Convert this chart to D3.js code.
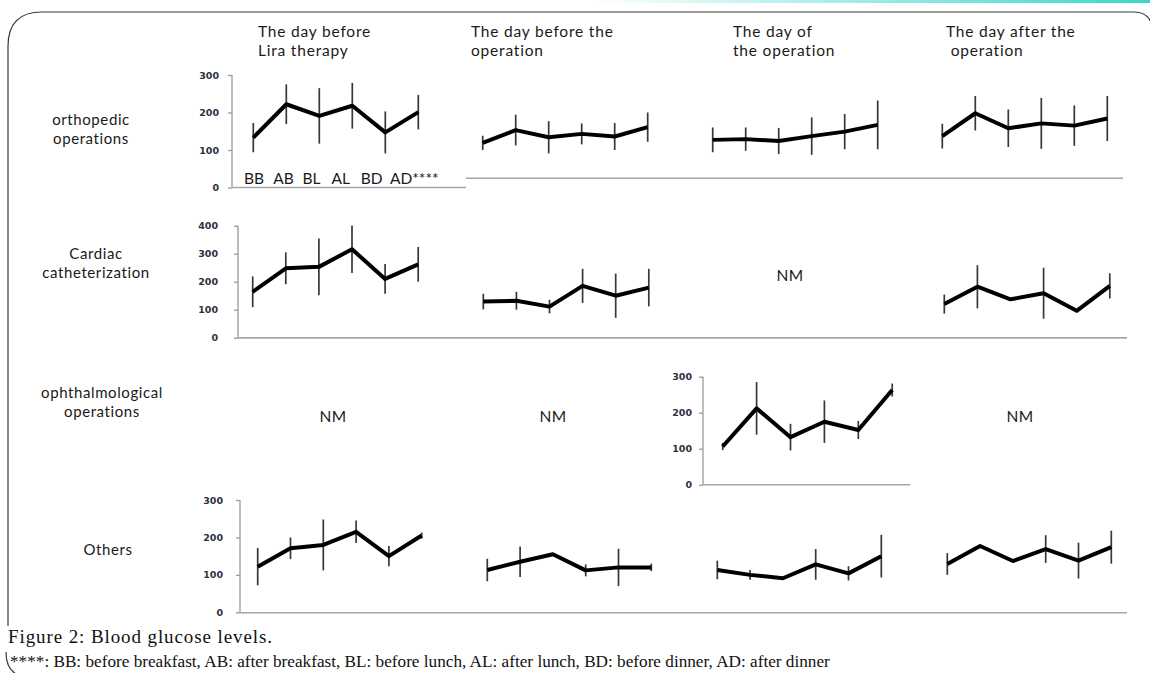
<!DOCTYPE html>
<html lang="en">
<head>
<meta charset="UTF-8">
<title>Blood glucose levels</title>
<style>
    body { margin: 0; background: #fff; }
    svg text { font-family: Lato, "Open Sans", sans-serif; fill: #1a1a1a; }
    .head { font-size: 15.5px; letter-spacing: 0.8px; }
    .group { font-size: 15px; letter-spacing: 0.6px; text-anchor: middle; }
    .nm { font-size: 15.5px; letter-spacing: 0.5px; text-anchor: middle; }
    .cat { font-size: 15.5px; }
    .yaxis text { font: bold 9.5px "DejaVu Sans", sans-serif; fill: #30303f; }
    .yaxis path, .yaxis line { stroke: #9a9a9a; stroke-width: 1.3; }
    .base { stroke: #a6a6a6; stroke-width: 1.6; }
    .err { stroke: #383838; stroke-width: 1.7; }
    .mean { fill: none; stroke: #000; stroke-width: 4; stroke-linejoin: round; }
    .caption { font-family: "Liberation Serif", "DejaVu Serif", serif; font-size: 17.2px; fill: #111; }
    .caption.title { font-size: 19px; letter-spacing: 0.9px; }
    .frame { fill: none; stroke: #3a3a3a; stroke-width: 1.2; }
</style>
</head>
<body>
<svg id="fig" width="1150" height="673"></svg>
<script src="https://cdn.jsdelivr.net/npm/d3@7"></script>
<script>

var times = ["BB", "AB", "BL", "AL", "BD", "AD"];
var days = [["The day before", "Lira therapy"], ["The day before the", "operation"],
            ["The day of", "the operation"], ["The day after the", " operation"]];
var groups = [["orthopedic", "operations"], ["Cardiac", "catheterization"],
              ["ophthalmological", "operations"], ["Others"]];
var yTicks = [[0, 100, 200, 300], [0, 100, 200, 300, 400], [0, 100, 200, 300], [0, 100, 200, 300]];

// mean and SD of blood glucose (mg/dL) per day, null = not measured (NM)
var orthoMean = [[133, 222, 191, 218, 147, 201], [119, 153, 134, 143, 136, 161],
                 [127, 129, 124, 137, 149, 167], [137, 198, 158, 171, 165, 184]];
var orthoSd   = [[39, 53, 74, 61, 56, 46], [19, 41, 43, 28, 36, 39],
                 [33, 31, 35, 50, 47, 65], [33, 46, 50, 68, 54, 60]];
var cardiacMean = [[164, 248, 253, 316, 210, 262], [129, 132, 111, 185, 150, 179],
                   null, [120, 182, 137, 159, 96, 185]];
var cardiacSd   = [[55, 57, 101, 85, 53, 62], [28, 32, 24, 61, 79, 67],
                   null, [34, 77, 0, 91, 0, 45]];
var ophthMean = [null, null, [106, 212, 132, 175, 152, 263], null];
var ophthSd   = [null, null, [10, 73, 37, 59, 25, 18], null];
var othersMean = [[122, 171, 180, 215, 150, 205], [113, 135, 155, 112, 120, 120],
                  [113, 100, 91, 128, 104, 150], [129, 177, 137, 169, 138, 174]];
var othersSd   = [[50, 29, 68, 30, 27, 8], [30, 41, 0, 16, 50, 10],
                  [25, 13, 0, 41, 19, 57], [29, 0, 0, 37, 48, 44]];

var means = [orthoMean, cardiacMean, ophthMean, othersMean];
var sds = [orthoSd, cardiacSd, ophthSd, othersSd];

// page layout (pixels)
var headX = [258, 471, 733, 946];
var rows = [
    {y0: 187.5, yTop: 75, max: 300, axisX: 232, pad: 9,
     starts: [253.3, 482.7, 712.7, 942.3], step: 33, labelX: 91, labelY: 125,
     baseLines: [[232, 466, 187.5], [466, 1123, 178.3]], nmX: []},
    {y0: 337.7, yTop: 225.7, max: 400, axisX: 238, pad: 16,
     starts: [252.7, 483.3, 713, 944.3], step: 33.1, labelX: 96, labelY: 259,
     baseLines: [[238, 1127, 337.9]], nmX: [null, null, 790, null], nmY: 281},
    {y0: 484.7, yTop: 376.7, max: 300, axisX: 703, pad: 7,
     starts: [0, 0, 722.7, 0], step: 33.9, labelX: 102, labelY: 398,
     baseLines: [[703, 910, 484.7]], nmX: [333, 553, null, 1020], nmY: 422},
    {y0: 612.3, yTop: 500, max: 300, axisX: 240, pad: 13,
     starts: [257.7, 487.3, 717.3, 947.3], step: 32.8, labelX: 108, labelY: 555,
     baseLines: [[240, 1127, 612.8]], nmX: []}
];

var svg = d3.select("#fig");

// frame and top accent
var grad = svg.append("defs").append("linearGradient").attr("id", "accent");
grad.append("stop").attr("offset", "0%").attr("stop-color", "#ffffff");
grad.append("stop").attr("offset", "100%").attr("stop-color", "#38d6cf");
svg.append("rect").attr("x", 590).attr("y", 0).attr("width", 560).attr("height", 3)
    .attr("fill", "url(#accent)");
svg.append("path").attr("class", "frame")
    .attr("d", "M8,626 L8,46 Q8,12 42,12 L1134,12 Q1149,12 1152,26");
svg.append("path").attr("class", "frame").attr("d", "M6,652 Q6,668 16,674");

// column headings
var head = svg.selectAll(".head").data(days).enter().append("text")
    .attr("class", "head")
    .attr("x", function (d, i) { return headX[i]; })
    .attr("y", 37);
head.selectAll("tspan").data(function (d) { return d; }).enter().append("tspan")
    .attr("x", function () { return d3.select(this.parentNode).attr("x"); })
    .attr("dy", function (d, i) { return i ? 18.5 : 0; })
    .attr("xml:space", "preserve")
    .text(function (d) { return d; });

rows.forEach(function (r, ri) {
    var y = d3.scaleLinear().domain([0, r.max]).range([r.y0, r.yTop]);

    // group label
    groups[ri].forEach(function (s, k) {
        svg.append("text").attr("class", "group")
            .attr("x", r.labelX).attr("y", r.labelY + k * 18.5).text(s);
    });

    // baselines
    r.baseLines.forEach(function (b) {
        svg.append("line").attr("class", "base")
            .attr("x1", b[0]).attr("x2", b[1]).attr("y1", b[2]).attr("y2", b[2]);
    });

    // y axis
    svg.append("g").attr("class", "yaxis")
        .attr("transform", "translate(" + r.axisX + ",0)")
        .call(d3.axisLeft(y).tickValues(yTicks[ri]).tickSize(4).tickSizeOuter(0).tickPadding(r.pad))
        .call(function (g) { g.select(".domain").attr("d", "M0," + y(0) + "V" + y(r.max)); });

    means[ri].forEach(function (m, pi) {
        if (!m) {
            if (r.nmX[pi] != null) {
                svg.append("text").attr("class", "nm").attr("x", r.nmX[pi]).attr("y", r.nmY).text("NM");
            }
            return;
        }
        var sd = sds[ri][pi];
        var x = d3.scalePoint().domain(times).range([r.starts[pi], r.starts[pi] + r.step * 5]);
        var pts = times.map(function (t, k) { return {t: t, m: m[k], s: sd[k]}; });
        var g = svg.append("g");

        g.selectAll(".err").data(pts.filter(function (p) { return p.s > 0; })).enter()
            .append("line").attr("class", "err")
            .attr("x1", function (p) { return x(p.t); })
            .attr("x2", function (p) { return x(p.t); })
            .attr("y1", function (p) { return y(p.m - p.s); })
            .attr("y2", function (p) { return y(p.m + p.s); });

        g.append("path").attr("class", "mean")
            .attr("d", d3.line().x(function (p) { return x(p.t); }).y(function (p) { return y(p.m); })(pts));
    });
});

// time-point labels under the first panel
var catX = d3.scalePoint().domain(times).range([244, 390]);
svg.selectAll(".cat").data(times).enter().append("text")
    .attr("class", "cat")
    .attr("x", function (d) { return catX(d); })
    .attr("y", 184)
    .text(function (d, i) { return i === times.length - 1 ? d + "****" : d; });

// caption
svg.append("text").attr("class", "caption title").attr("x", 8).attr("y", 643)
    .text("Figure 2: Blood glucose levels.");
svg.append("text").attr("class", "caption").attr("x", 10).attr("y", 667)
    .text("****: BB: before breakfast, AB: after breakfast, BL: before lunch, AL: after lunch, BD: before dinner, AD: after dinner");

</script>
</body>
</html>
